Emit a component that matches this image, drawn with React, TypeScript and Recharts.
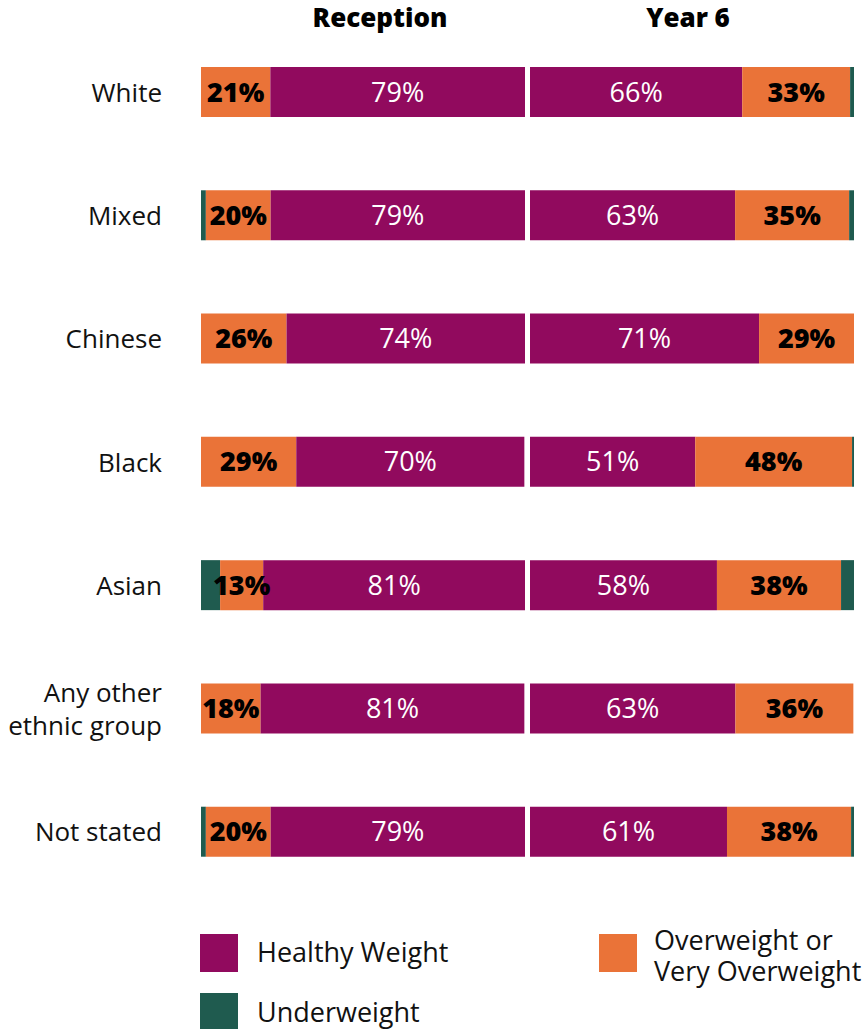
import React from "react";
import { BarChart, Bar, XAxis, YAxis, LabelList } from "recharts";

const groups = ["White", "Mixed", "Chinese", "Black", "Asian", "Any other ethnic group", "Not stated"];

// Reception (%)
const recUnder = [0, 1.5, 0, 0, 5.9, 0, 1.5];
const recOver = [21.4, 20.0, 26.4, 29.4, 13.3, 18.4, 20.0];
const recHealthy = [78.6, 78.5, 73.6, 70.4, 80.8, 81.4, 78.5];

// Year 6 (%)
const y6Healthy = [65.5, 63.3, 70.7, 51.0, 57.7, 63.4, 60.8];
const y6Over = [33.3, 35.2, 29.3, 48.4, 38.3, 36.4, 38.3];
const y6Under = [1.2, 1.5, 0, 0.6, 4.0, 0, 0.9];

const COLORS = { healthy: "#910A5E", over: "#EA7338", under: "#1F5B4F" };
const FONT = "'Open Sans', Lato, sans-serif";

const recData = groups.map((g, i) => ({ group: g, under: recUnder[i], over: recOver[i], healthy: recHealthy[i] }));
const y6Data = groups.map((g, i) => ({ group: g, under: y6Under[i], over: y6Over[i], healthy: y6Healthy[i] }));

const pct = (v: any) => `${Math.round(Number(v))}%`;

function GroupTick(props: any) {
  const { y, payload } = props;
  const text: string = payload.value;
  const lines = text === "Any other ethnic group" ? ["Any other", "ethnic group"] : [text];
  const gap = 33;
  const startY = y - ((lines.length - 1) * gap) / 2;
  return (
    <g>
      {lines.map((l, i) => (
        <text key={i} x={162} y={startY + i * gap} textAnchor="end" dominantBaseline="central" fill="#111" fontSize={26} fontFamily={FONT}>
          {l}
        </text>
      ))}
    </g>
  );
}

const overLabel = { position: "center" as const, fill: "#000", fontSize: 27, fontWeight: 800, fontFamily: FONT, formatter: pct };
const healthyLabel = { position: "center" as const, fill: "#fff", fontSize: 27, fontFamily: FONT, formatter: pct };

const CHART_H = 924;
const MARGIN = { top: 30, right: 0, bottom: 31, left: 0 };

function Legend() {
  const box = (c: string) => ({ position: "absolute" as const, width: 38, height: 38, background: c });
  const txt = { position: "absolute" as const, fontSize: 27, fontFamily: FONT, color: "#111", lineHeight: "30px", whiteSpace: "nowrap" as const };
  return (
    <>
      <div style={{ ...box(COLORS.healthy), left: 200, top: 934 }} />
      <div style={{ ...txt, left: 257, top: 937 }}>Healthy Weight</div>
      <div style={{ ...box(COLORS.under), left: 200, top: 993 }} />
      <div style={{ ...txt, left: 257, top: 997 }}>Underweight</div>
      <div style={{ ...box(COLORS.over), left: 599, top: 934 }} />
      <div style={{ ...txt, left: 654, top: 925 }}>Overweight or</div>
      <div style={{ ...txt, left: 654, top: 956 }}>Very Overweight</div>
    </>
  );
}

export default function App() {
  const head = { position: "absolute" as const, top: -1, fontSize: 26, fontWeight: 800, fontFamily: FONT, color: "#000", textAlign: "center" as const, width: 324 };
  return (
    <div style={{ position: "absolute", left: 0, top: 0, width: 863, height: 1029, overflow: "hidden", background: "#fff" }}>
      <div style={{ ...head, left: 218 }}>Reception</div>
      <div style={{ ...head, left: 526 }}>Year 6</div>

      <div style={{ position: "absolute", left: 0, top: 0 }}>
        <BarChart width={525} height={CHART_H} data={recData} layout="vertical" margin={MARGIN} barCategoryGap={0}>
          <XAxis type="number" domain={[0, 100]} hide />
          <YAxis type="category" dataKey="group" width={201} axisLine={false} tickLine={false} tick={<GroupTick />} interval={0} />
          <Bar dataKey="under" stackId="a" fill={COLORS.under} barSize={50} isAnimationActive={false} />
          <Bar dataKey="over" stackId="a" fill={COLORS.over} barSize={50} isAnimationActive={false}>
            <LabelList dataKey="over" {...overLabel} />
          </Bar>
          <Bar dataKey="healthy" stackId="a" fill={COLORS.healthy} barSize={50} isAnimationActive={false}>
            <LabelList dataKey="healthy" {...healthyLabel} />
          </Bar>
        </BarChart>
      </div>

      <div style={{ position: "absolute", left: 530, top: 0 }}>
        <BarChart width={324} height={CHART_H} data={y6Data} layout="vertical" margin={MARGIN} barCategoryGap={0}>
          <XAxis type="number" domain={[0, 100]} hide />
          <YAxis type="category" dataKey="group" hide />
          <Bar dataKey="healthy" stackId="b" fill={COLORS.healthy} barSize={50} isAnimationActive={false}>
            <LabelList dataKey="healthy" {...healthyLabel} />
          </Bar>
          <Bar dataKey="over" stackId="b" fill={COLORS.over} barSize={50} isAnimationActive={false}>
            <LabelList dataKey="over" {...overLabel} />
          </Bar>
          <Bar dataKey="under" stackId="b" fill={COLORS.under} barSize={50} isAnimationActive={false} />
        </BarChart>
      </div>

      <Legend />
    </div>
  );
}
